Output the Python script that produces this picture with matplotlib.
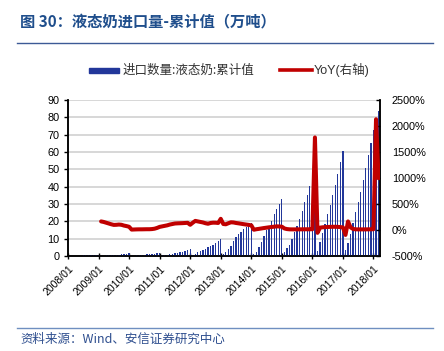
import matplotlib
matplotlib.use("Agg")
import matplotlib.pyplot as plt
from matplotlib.patches import Rectangle
from matplotlib.lines import Line2D
import numpy as np

# ---------------- data ----------------
tick_labels = [f"{y}/01" for y in range(2008, 2019)]

# cumulative import volume (万吨), monthly, Jan 2008 .. Feb 2018
vol_2008 = [0.05, 0.1, 0.15, 0.2, 0.25, 0.3, 0.35, 0.42, 0.5, 0.6, 0.7, 0.8]
vol_2009 = [0.15, 0.25, 0.35, 0.45, 0.55, 0.65, 0.75, 0.85, 1.0, 1.15, 1.3, 1.5]
vol_2010 = [0.15, 0.28, 0.4, 0.5, 0.62, 0.75, 0.88, 1.0, 1.15, 1.3, 1.5, 1.7]
vol_2011 = [0.3, 0.5, 0.8, 1.0, 1.3, 1.6, 1.9, 2.2, 2.5, 2.9, 3.3, 3.8]
vol_2012 = [0.7, 1.4, 2.2, 2.9, 3.6, 4.3, 5.0, 5.8, 6.6, 7.5, 8.6, 9.8]
vol_2013 = [1.2, 2.5, 4.0, 6.0, 8.5, 11.0, 12.8, 14.0, 15.5, 17.0, 18.2, 19.3]
vol_2014 = [1.0, 2.5, 5.4, 8.3, 11.5, 15.0, 17.5, 20.4, 24.0, 27.0, 29.8, 32.9]
vol_2015 = [2.3, 4.5, 6.5, 10.0, 14.0, 17.5, 21.5, 26.0, 31.0, 35.0, 40.4, 46.7]
vol_2016 = [43.0, 2.7, 8.3, 13.5, 18.5, 24.0, 29.5, 35.0, 41.0, 47.5, 54.0, 60.6]
vol_2017 = [3.5, 7.6, 12.5, 19.0, 25.6, 31.4, 37.0, 43.8, 51.0, 58.0, 65.4, 72.7]
vol_2018 = [79.0, 83.5]
volume = (vol_2008 + vol_2009 + vol_2010 + vol_2011 + vol_2012 + vol_2013 +
          vol_2014 + vol_2015 + vol_2016 + vol_2017 + vol_2018)

# YoY (%), monthly, Jan 2009 .. Feb 2018
yoy_2009 = [165, 155, 140, 125, 110, 98, 100, 105, 100, 85, 75, 62]
yoy_2010 = [8, 10, 12, 13, 13, 14, 15, 15, 18, 25, 40, 60]
yoy_2011 = [70, 80, 90, 105, 115, 125, 128, 130, 132, 135, 138, 100]
yoy_2012 = [140, 175, 165, 155, 145, 130, 120, 135, 141, 140, 135, 215]
yoy_2013 = [115, 110, 130, 148, 145, 135, 128, 120, 112, 105, 98, 90]
yoy_2014 = [5, 15, 22, 30, 38, 45, 52, 58, 64, 70, 68, 64]
yoy_2015 = [30, 18, 13, 12, 12, 12, 13, 13, 14, 14, 14, 15]
yoy_2016 = [1780, -55, 45, 52, 55, 58, 60, 62, 62, 60, 56, 50]
yoy_2017 = [-95, 165, 50, 20, 13, 12, 12, 12, 12, 13, 13, 15]
yoy_2018 = [2130, 995]
yoy = (yoy_2009 + yoy_2010 + yoy_2011 + yoy_2012 + yoy_2013 + yoy_2014 +
       yoy_2015 + yoy_2016 + yoy_2017 + yoy_2018)

title = "图 30：液态奶进口量-累计值（万吨）"
legend_bar = "进口数量:液态奶:累计值"
legend_line = "YoY(右轴)"
source = "资料来源：Wind、安信证券研究中心"

# ---------------- style ----------------
W, H = 444, 351
FONT = ["Liberation Sans", "Noto Sans CJK SC", "DejaVu Sans"]
CJK = ["Noto Sans CJK SC", "Liberation Sans", "DejaVu Sans"]
plt.rcParams["font.family"] = FONT
BAR_C = "#22379A"
LINE_C = "#C00000"
TITLE_C = "#1F4E8C"

fig = plt.figure(figsize=(W / 100, H / 100), dpi=100)

def fx(x):
    return x / W

def fy(y):
    return 1 - y / H

L, R, T, B = 68, 379.5, 100, 256
ax = fig.add_axes([fx(L), fy(B), (R - L) / W, (B - T) / H])
ax2 = ax.twinx()

# month-end positions: month index i -> i + 1 (in months from 2008/01)
x_vol = np.arange(len(volume)) + 1
x_yoy = np.arange(len(yoy)) + 12 + 1

ax.bar(x_vol, volume, width=0.5, color=BAR_C, linewidth=0, zorder=3)
ax.set_xlim(0, 122.36)
ax.set_ylim(0, 90)
ax.set_yticks(np.arange(0, 91, 10))
ax.yaxis.grid(True, color="#D4D4D4", linewidth=1.3, zorder=0)
ax.set_axisbelow(True)
ax.set_xticks(np.arange(0, 121, 12))
ax.set_xticklabels(tick_labels, rotation=45, ha="right", va="top",
                   rotation_mode="anchor", fontsize=7.5)
ax.tick_params(axis="x", direction="inout", length=5, width=1, pad=3)
ax.tick_params(axis="y", direction="out", length=3, width=1, labelsize=7.8, pad=3)

ax2.plot(x_yoy, yoy, color=LINE_C, linewidth=2.9, solid_joinstyle="round",
         solid_capstyle="round", zorder=5)
ax2.set_ylim(-500, 2500)
ax2.set_yticks(np.arange(-500, 2501, 500))
ax2.set_yticklabels([f"{v}%" for v in range(-500, 2501, 500)])
ax2.tick_params(axis="y", direction="in", length=3, width=1, labelsize=7.8, pad=9)

for a in (ax, ax2):
    a.spines["top"].set_visible(False)
    for s in ("left", "right", "bottom"):
        a.spines[s].set_linewidth(1.1)
        a.spines[s].set_color("black")

# title and rules
fig.text(fx(20), fy(21), title, fontsize=11, fontweight="bold", color=TITLE_C,
         family=CJK, ha="left", va="center")
fig.add_artist(Line2D([fx(17), fx(433)], [fy(43), fy(43)], color="#3C5A96",
                      linewidth=1.0))
fig.add_artist(Line2D([fx(17), fx(433)], [fy(327.5), fy(327.5)], color="#6F8FC0",
                      linewidth=1.0))
fig.text(fx(20), fy(339), source, fontsize=9, color="#2F4F8F", style="italic",
         family=CJK, ha="left", va="center")

# legend
fig.add_artist(Rectangle((fx(89), fy(72.5)), (119 - 89) / W, 5 / H,
                         color=BAR_C, transform=fig.transFigure))
fig.text(fx(123), fy(70), legend_bar, fontsize=9, color="#333333", family=CJK,
         ha="left", va="center")
fig.add_artist(Line2D([fx(280), fx(312)], [fy(70), fy(70)], color=LINE_C,
                      linewidth=2.6))
fig.text(fx(314), fy(70), legend_line, fontsize=9, color="#333333", family=FONT,
         ha="left", va="center")

fig.savefig("out.png", dpi=100)
